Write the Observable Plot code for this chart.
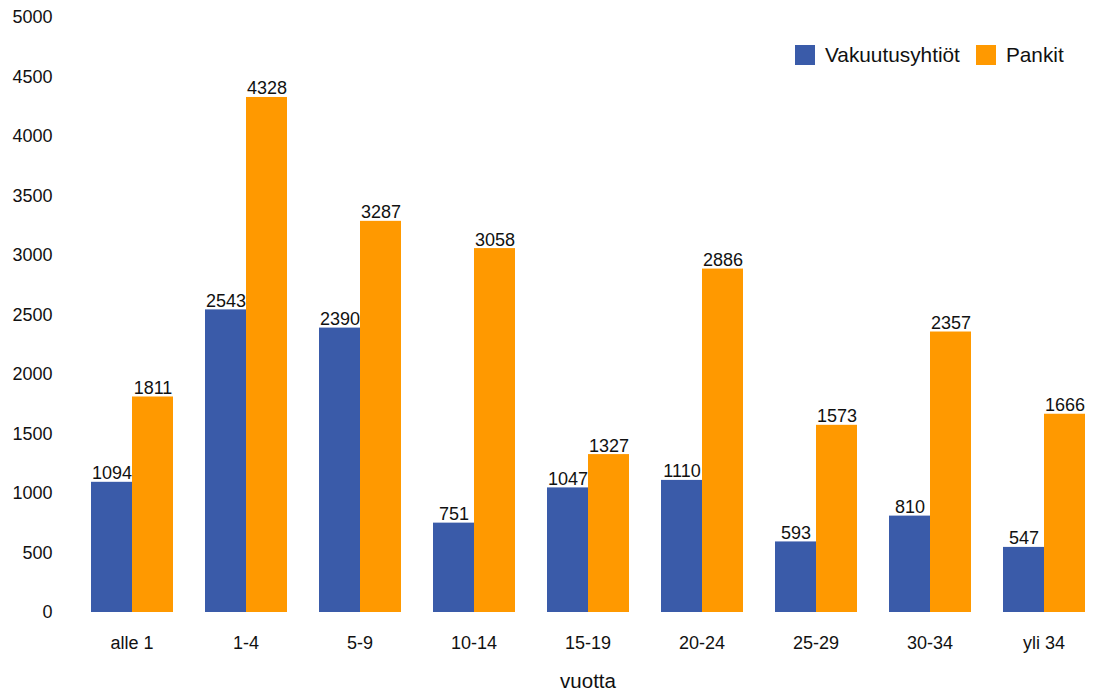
<!DOCTYPE html>
<html>
<head>
<meta charset="utf-8">
<script src="https://cdn.jsdelivr.net/npm/d3@7"></script>
<script src="https://cdn.jsdelivr.net/npm/@observablehq/plot@0.6"></script>
<style>
  html, body { margin: 0; padding: 0; background: #fff; }
  #wrap { position: relative; width: 1097px; height: 691px; font-family: "Liberation Sans", Arial, sans-serif; }
  #legend { position: absolute; top: 43px; left: 795px; display: flex; align-items: center; font-size: 20.8px; color: #111; }
  #legend .sw { width: 20px; height: 20px; display: inline-block; margin-right: 10px; }
  #legend .item { display: flex; align-items: center; margin-right: 16px; }
</style>
</head>
<body>
<div id="wrap"><div id="legend"></div></div>
<script>
const categories = ["alle 1", "1-4", "5-9", "10-14", "15-19", "20-24", "25-29", "30-34", "yli 34"];
const seriesNames = ["Vakuutusyhtiöt", "Pankit"];
const vakuutusyhtiot = [1094, 2543, 2390, 751, 1047, 1110, 593, 810, 547];
const pankit = [1811, 4328, 3287, 3058, 1327, 2886, 1573, 2357, 1666];
const yTicks = [0, 500, 1000, 1500, 2000, 2500, 3000, 3500, 4000, 4500, 5000];
const colors = ["#3a5ba9", "#ff9900"];

const data = [];
categories.forEach((c, i) => {
  data.push({category: c, series: seriesNames[0], value: vakuutusyhtiot[i]});
  data.push({category: c, series: seriesNames[1], value: pankit[i]});
});

const chart = Plot.plot({
  width: 1097,
  height: 691,
  marginTop: 17,
  marginBottom: 79,
  marginLeft: 78,
  marginRight: 0,
  style: {fontFamily: "'Liberation Sans', Arial, sans-serif", fontSize: "18px", color: "#111", background: "#fff"},
  fx: {domain: categories, paddingInner: 0.275, paddingOuter: 0.1, label: "vuotta"},
  x: {domain: seriesNames, padding: 0, axis: null},
  y: {domain: [0, 5000], ticks: yTicks, label: null},
  color: {domain: seriesNames, range: colors},
  marks: [
    Plot.axisY({ticks: yTicks, tickSize: 0, tickPadding: 38, tickFormat: d => String(d), label: null, fontSize: 18}),
    Plot.axisFx({anchor: "bottom", tickSize: 0, tickPadding: 24, label: null, fontSize: 18}),
    Plot.axisFx({anchor: "bottom", ticks: [], tickSize: 0, label: "vuotta", labelAnchor: "center", labelArrow: "none", labelOffset: 75, fontSize: 20.5}),
    Plot.barY(data, {fx: "category", x: "series", y: "value", fill: "series"}),
    Plot.text(data, {fx: "category", x: "series", y: "value", text: d => String(d.value), lineAnchor: "bottom", dy: -3, fontSize: 18, fill: "#111"})
  ]
});
document.getElementById("wrap").prepend(chart);

const legend = document.getElementById("legend");
seriesNames.forEach((s, i) => {
  const item = document.createElement("div");
  item.className = "item";
  const sw = document.createElement("span");
  sw.className = "sw";
  sw.style.background = colors[i];
  const t = document.createElement("span");
  t.textContent = s;
  item.appendChild(sw);
  item.appendChild(t);
  legend.appendChild(item);
});
</script>
</body>
</html>
